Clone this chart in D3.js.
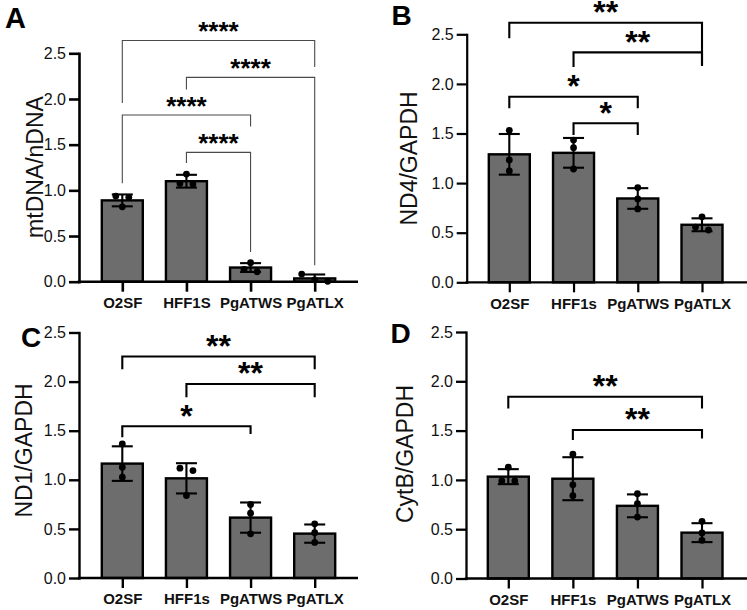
<!DOCTYPE html>
<html>
<head>
<meta charset="utf-8">
<script src="https://cdn.jsdelivr.net/npm/d3@7/dist/d3.min.js"></script>
<style>
  html, body { margin: 0; padding: 0; background: #fff; }
  svg { display: block; }
  text { font-family: "Liberation Sans", Arial, Helvetica, sans-serif; }
</style>
</head>
<body>
<svg id="chart" width="747" height="610"></svg>
<script>
// ---------------- DATA ----------------
const categoriesA = ["O2SF", "HFF1S", "PgATWS", "PgATLX"];
const categoriesBCD = ["O2SF", "HFF1s", "PgATWS", "PgATLX"];
const yTicks = [0, 0.5, 1.0, 1.5, 2.0, 2.5];

// Panel A: mtDNA/nDNA
const meansA = [0.89, 1.10, 0.155, 0.036];
const sdA = [0.065, 0.07, 0.048, 0.043];
const pointsA = [[0.937, 0.923, 0.82], [1.178, 1.069, 1.076], [0.208, 0.109, 0.135], [0.084, 0.02, 0.005]];
const bracketsA = [
  { from: 0, to: 3, level: 2.64, left: 1.955, right: 2.35, label: "****" },
  { from: 1, to: 3, level: 2.236, left: 2.105, right: 0.18, label: "****" },
  { from: 0, to: 2, level: 1.824, left: 1.077, right: 1.70, label: "****" },
  { from: 1, to: 2, level: 1.416, left: 1.30, right: 0.325, label: "****" }
];

// Panel B: ND4/GAPDH
const meansB = [1.29, 1.305, 0.845, 0.58];
const sdB = [0.205, 0.15, 0.104, 0.065];
const pointsB = [[1.532, 1.233, 1.122], [1.434, 1.357, 1.142], [0.955, 0.84, 0.74], [0.66, 0.557, 0.527]];
const bracketsB = [
  { from: 0, to: 3, level: 2.617, left: 2.46, right: 2.19, label: "**" },
  { from: 1, to: 3, level: 2.318, left: 2.17, right: 2.18, label: "**" },
  { from: 0, to: 2, level: 1.871, left: 1.754, right: 1.754, label: "*" },
  { from: 1, to: 2, level: 1.603, left: 1.485, right: 1.485, label: "*" }
];

// Panel C: ND1/GAPDH
const meansC = [1.165, 1.015, 0.615, 0.452];
const sdC = [0.176, 0.154, 0.154, 0.093];
const pointsC = [[1.365, 1.128, 1.026], [1.118, 1.094, 0.84], [0.749, 0.66, 0.45], [0.552, 0.461, 0.362]];
const bracketsC = [
  { from: 0, to: 3, level: 2.256, left: 2.127, right: 2.127, label: "**" },
  { from: 1, to: 3, level: 1.975, left: 1.84, right: 1.84, label: "**" },
  { from: 0, to: 2, level: 1.545, left: 1.433, right: 1.467, label: "*" }
];

// Panel D: CytB/GAPDH
const meansD = [1.033, 1.012, 0.737, 0.465];
const sdD = [0.076, 0.218, 0.116, 0.096];
const pointsD = [[1.129, 0.99, 0.99], [1.26, 0.95, 0.839], [0.86, 0.758, 0.623], [0.58, 0.462, 0.387]];
const bracketsD = [
  { from: 0, to: 3, level: 1.843, left: 1.725, right: 1.725, label: "**" },
  { from: 1, to: 3, level: 1.506, left: 1.405, right: 1.42, label: "**" }
];

// ---------------- LAYOUT ----------------
const panels = [
  { letter: "A", title: "mtDNA/nDNA", cats: categoriesA, means: meansA, sd: sdA, pts: pointsA, brackets: bracketsA,
    left: 79, right: 358, top: 53.3, bottom: 281.7, c0: 122.3, c3: 314.7,
    axisW: 2.6, brW: 1.1, brColor: "#4a4a4a", starSize: 26, starGap: 13,
    letterX: 5, letterY: 28, letterSize: 29, titleX: 43, titleY: 167 },
  { letter: "B", title: "ND4/GAPDH", cats: categoriesBCD, means: meansB, sd: sdB, pts: pointsB, brackets: bracketsB,
    left: 466.7, right: 747, top: 34.3, bottom: 282.3, c0: 509.3, c3: 702,
    axisW: 2.2, brW: 2.1, brColor: "#000", starSize: 32, starGap: 15,
    letterX: 391.5, letterY: 25, letterSize: 28, titleX: 417, titleY: 158.5 },
  { letter: "C", title: "ND1/GAPDH", cats: categoriesBCD, means: meansC, sd: sdC, pts: pointsC, brackets: bracketsC,
    left: 79, right: 358, top: 332.5, bottom: 578, c0: 122.3, c3: 314.7,
    axisW: 2.4, brW: 2.1, brColor: "#000", starSize: 32, starGap: 15,
    letterX: 21, letterY: 347, letterSize: 28, titleX: 32, titleY: 450.5 },
  { letter: "D", title: "CytB/GAPDH", cats: categoriesBCD, means: meansD, sd: sdD, pts: pointsD, brackets: bracketsD,
    left: 466, right: 747, top: 332, bottom: 578.5, c0: 508.3, c3: 702,
    axisW: 2.3, brW: 2.1, brColor: "#000", starSize: 32, starGap: 15,
    letterX: 390.5, letterY: 343, letterSize: 28, titleX: 413, titleY: 454 }
];

const BAR_W = 41, CAP_W = 21, R = 3.4, BAR_FILL = "#6d6d6d";

const svg = d3.select("#chart");

// simple swarm: points whose pixel y's are within threshold are spread symmetrically
function swarm(vals, y) {
  const items = vals.map((v, i) => ({ v, i, py: y(v), dx: 0 }));
  const sorted = items.slice().sort((a, b) => a.py - b.py);
  const clusters = [];
  sorted.forEach(p => {
    const last = clusters[clusters.length - 1];
    if (last && p.py - last[last.length - 1].py < 6) last.push(p);
    else clusters.push([p]);
  });
  clusters.forEach(c => {
    const n = c.length;
    if (n > 1) c.forEach((p, k) => { p.dx = (k - (n - 1) / 2) * 13; });
  });
  return items;
}

panels.forEach(P => {
  const g = svg.append("g");
  const x = d3.scalePoint().domain(P.cats).range([P.c0, P.c3]);
  const y = d3.scaleLinear().domain([0, 2.5]).range([P.bottom, P.top]);

  // bars
  g.selectAll("rect.bar").data(P.cats).join("rect")
    .attr("class", "bar")
    .attr("x", d => x(d) - BAR_W / 2)
    .attr("width", BAR_W)
    .attr("y", (d, i) => y(P.means[i]))
    .attr("height", (d, i) => y(0) - y(P.means[i]))
    .attr("fill", BAR_FILL)
    .attr("stroke", "#000")
    .attr("stroke-width", 2.4);

  // error bars
  const eb = g.selectAll("g.err").data(P.cats).join("g").attr("class", "err")
    .attr("stroke", "#000").attr("stroke-width", 2.1).attr("fill", "none");
  eb.each(function (d, i) {
    const hi = P.means[i] + P.sd[i];
    const lo = Math.max(0, P.means[i] - P.sd[i]);
    const cx = x(d);
    const s = d3.select(this);
    s.append("line").attr("x1", cx).attr("x2", cx).attr("y1", y(lo)).attr("y2", y(hi));
    s.append("line").attr("x1", cx - CAP_W / 2).attr("x2", cx + CAP_W / 2).attr("y1", y(hi)).attr("y2", y(hi));
    if (lo > 0) s.append("line").attr("x1", cx - CAP_W / 2).attr("x2", cx + CAP_W / 2).attr("y1", y(lo)).attr("y2", y(lo));
  });

  // points
  P.cats.forEach((c, i) => {
    const sw = swarm(P.pts[i], y);
    g.selectAll(null).data(sw).join("circle")
      .attr("cx", d => x(c) + d.dx)
      .attr("cy", d => d.py)
      .attr("r", R)
      .attr("fill", "#000");
  });

  // y axis
  const yAxis = d3.axisLeft(y).tickValues(yTicks).tickFormat(d3.format(".1f"))
    .tickSize(10).tickSizeOuter(0).tickPadding(3);
  const ga = g.append("g").attr("transform", `translate(${P.left},0)`).call(yAxis);
  ga.select(".domain").attr("stroke-width", P.axisW).attr("stroke-linecap", "square");
  ga.selectAll(".tick line").attr("stroke-width", P.axisW);
  ga.selectAll(".tick text").attr("font-size", 16).attr("fill", "#111")
    .attr("font-family", "'Liberation Sans', Arial, sans-serif");

  // x axis (ticks + labels from axis, full-width baseline from scale extent)
  const xAxis = d3.axisBottom(x).tickSize(10).tickPadding(5.6);
  const gx = g.append("g").attr("transform", `translate(0,${y(0)})`).call(xAxis);
  gx.select(".domain").remove();
  gx.selectAll(".tick line").attr("stroke-width", P.axisW);
  gx.selectAll(".tick text").attr("font-size", 15).attr("font-weight", "bold").attr("fill", "#111")
    .attr("font-family", "'Liberation Sans', Arial, sans-serif");
  g.append("line").attr("x1", P.left - P.axisW / 2).attr("x2", P.right)
    .attr("y1", y(0)).attr("y2", y(0)).attr("stroke", "#000").attr("stroke-width", P.axisW);

  // significance brackets
  P.brackets.forEach(b => {
    const x1 = x(P.cats[b.from]), x2 = x(P.cats[b.to]);
    const yl = y(b.level);
    g.append("path")
      .attr("d", `M${x1},${y(b.left)}V${yl}H${x2}V${y(b.right)}`)
      .attr("fill", "none").attr("stroke", P.brColor).attr("stroke-width", P.brW);
    g.append("text")
      .attr("x", (x1 + x2) / 2)
      .attr("y", yl - P.starGap + 0.48 * P.starSize)
      .attr("text-anchor", "middle")
      .attr("font-size", P.starSize)
      .attr("font-weight", "bold")
      .text(b.label);
  });

  // y title
  g.append("text")
    .attr("transform", `translate(${P.titleX},${P.titleY}) rotate(-90)`)
    .attr("text-anchor", "middle")
    .attr("font-size", 23)
    .attr("fill", "#111")
    .text(P.title);

  // panel letter
  g.append("text")
    .attr("x", P.letterX).attr("y", P.letterY)
    .attr("font-size", P.letterSize).attr("font-weight", "bold")
    .text(P.letter);
});
</script>
</body>
</html>
